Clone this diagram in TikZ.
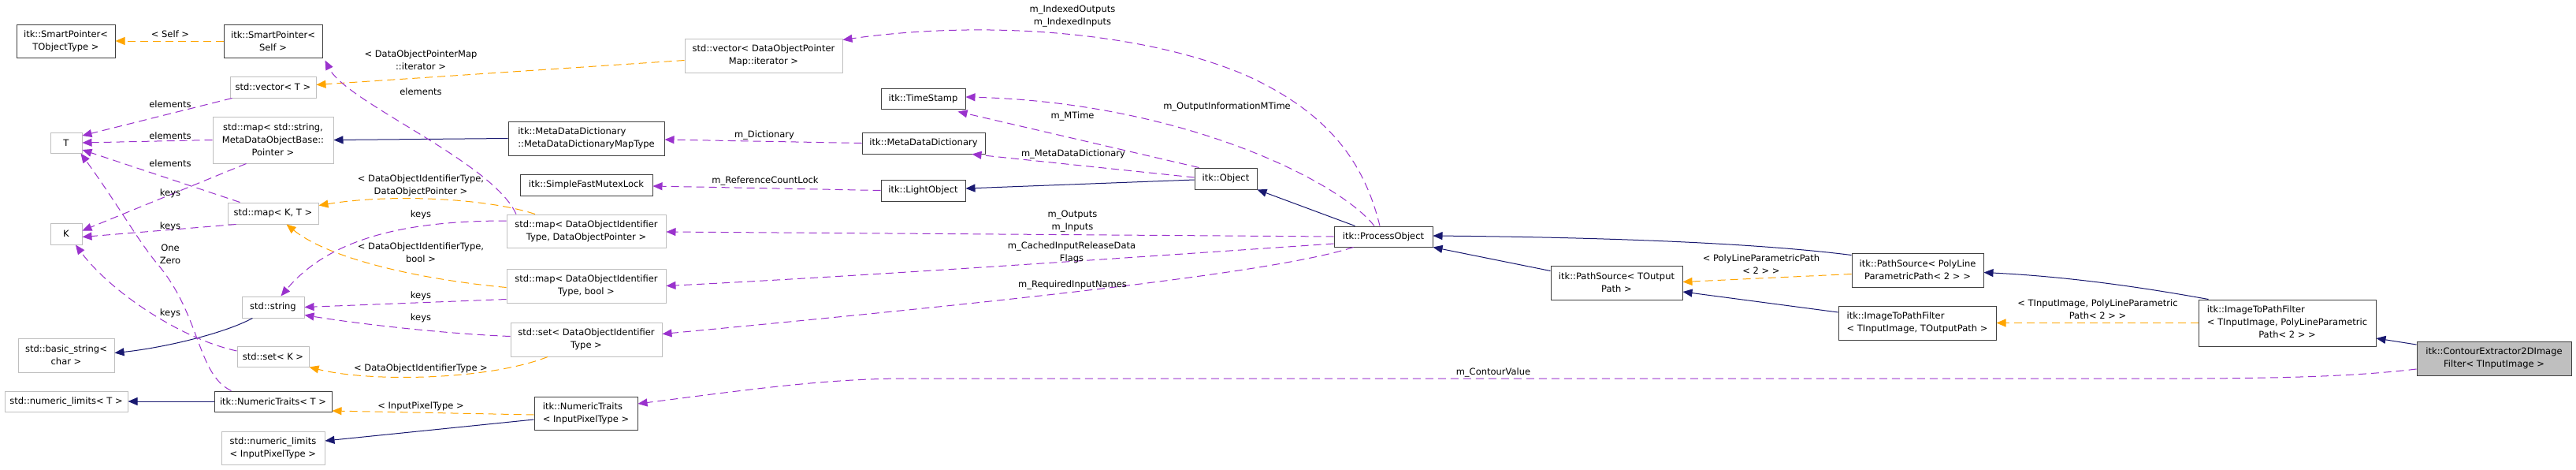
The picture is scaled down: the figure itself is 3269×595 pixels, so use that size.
\documentclass[tikz,border=0pt]{standalone}
\usepackage{fontspec}
\setmainfont{DejaVu Sans}
\usepackage{tikz}
\usetikzlibrary{arrows.meta,positioning,calc}

\definecolor{inhblue}{HTML}{191970}
\definecolor{tmplorange}{HTML}{FFA500}
\definecolor{useorchid}{HTML}{9A32CD}
\definecolor{boxgray}{HTML}{BFBFBF}
\definecolor{boxdark}{HTML}{404040}

\begin{document}
\begin{tikzpicture}[
    x=1pt, y=-1pt,
    every node/.style={font=\fontsize{11.5}{16}\selectfont, inner sep=0pt},
    sz/.style 2 args={minimum width=#1pt, minimum height=#2pt},
    cls/.style={rectangle, draw=boxdark, line width=1pt, fill=white, align=center},
    ext/.style={rectangle, draw=boxgray, line width=1pt, fill=white, align=center},
    focus/.style={rectangle, draw=boxdark, line width=1pt, fill=boxgray, align=center},
    lbl/.style={align=center},
    inh/.style={-{Triangle[length=12pt, width=10pt]}, draw=inhblue, line width=1pt},
    tmpl/.style={-{Triangle[length=12pt, width=10pt]}, draw=tmplorange, line width=1pt, dash pattern=on 10pt off 6pt},
    uses/.style={-{Triangle[length=12pt, width=10pt]}, draw=useorchid, line width=1pt, dash pattern=on 10pt off 6pt}
]

\fill[white] (0,0) rectangle (3269,595);
\useasboundingbox (0,0) rectangle (3269,595);

% Left column
\node[cls, sz={125}{42}] (spT) at (83.5,52) {itk::SmartPointer<\\TObjectType >};
\node[ext, sz={40}{26}] (Tnode) at (84,181) {T};
\node[ext, sz={40}{27}] (Knode) at (84,296.5) {K};
\node[ext, sz={122}{43}] (basicstr) at (84,450.5) {std::basic\_string<\\char >};
\node[ext, sz={156}{26}] (numlimT) at (84,509) {std::numeric\_limits< T >};

% Second column
\node[cls, sz={125}{42}] (spSelf) at (346.5,52) {itk::SmartPointer<\\Self >};
\node[ext, sz={109}{27}] (vecT) at (346.5,110.5) {std::vector< T >};
\node[ext, sz={153}{59}] (mapStr) at (346.5,177.5) {std::map< std::string,\\MetaDataObjectBase::\\Pointer >};
\node[ext, sz={115}{27}] (mapKT) at (346.5,270.5) {std::map< K, T >};
\node[ext, sz={79}{27}] (stdstr) at (346.5,389.5) {std::string};
\node[ext, sz={91}{26}] (setK) at (346.5,452) {std::set< K >};
\node[cls, sz={149}{26}] (ntT) at (346.5,509) {itk::NumericTraits< T >};
\node[ext, sz={131}{42}, align=left] (numlimIPT) at (346.5,568) {std::numeric\_limits\\< InputPixelType >};

% Third column
\node[ext, sz={200}{43}] (vecDOP) at (969,70.5) {std::vector< DataObjectPointer\\Map::iterator >};
\node[cls, sz={198}{43}, align=left] (mddMap) at (744,175.5) {itk::MetaDataDictionary\\::MetaDataDictionaryMapType};
\node[cls, sz={168}{27}] (mutex) at (744,234.5) {itk::SimpleFastMutexLock};
\node[ext, sz={202}{42}] (mapDOP) at (744,293) {std::map< DataObjectIdentifier\\Type, DataObjectPointer >};
\node[ext, sz={202}{43}] (mapBool) at (744,362.5) {std::map< DataObjectIdentifier\\Type, bool >};
\node[ext, sz={192}{43}] (setDOI) at (744,430.5) {std::set< DataObjectIdentifier\\Type >};
\node[cls, sz={131}{42}, align=left] (ntIPT) at (743.5,524) {itk::NumericTraits\\< InputPixelType >};

% Object chain
\node[cls, sz={107}{26}] (stamp) at (1171.5,125) {itk::TimeStamp};
\node[cls, sz={156}{27}] (mdd) at (1172,181.5) {itk::MetaDataDictionary};
\node[cls, sz={107}{27}] (light) at (1171.5,241.5) {itk::LightObject};
\node[cls, sz={79}{27}] (object) at (1555.5,226.5) {itk::Object};
\node[cls, sz={125}{26}] (process) at (1755.5,300) {itk::ProcessObject};

% Filters
\node[cls, sz={167}{43}] (psOut) at (2051.5,358.5) {itk::PathSource< TOutput\\Path >};
\node[cls, sz={167}{43}] (psPoly) at (2433.5,342.5) {itk::PathSource< PolyLine\\ParametricPath< 2 > >};
\node[cls, sz={200}{43}, align=left] (itpT) at (2433,409.5) {itk::ImageToPathFilter\\< TInputImage, TOutputPath >};
\node[cls, sz={225}{59}] (itpPoly) at (2902.5,409.5) {\begin{tabular}{@{}l@{}}itk::ImageToPathFilter\\< TInputImage, PolyLineParametric\\\multicolumn{1}{@{}c@{}}{Path< 2 > >}\end{tabular}};
\node[focus, sz={196}{43}] (contour) at (3165,454.5) {itk::ContourExtractor2DImage\\Filter< TInputImage >};

% Inheritance
\draw[inh] (mddMap.west) -- (mapStr.east);
\draw[inh] ([xshift=-26pt]stdstr.south) .. controls (280,425) and (200,442) .. ([yshift=3pt]basicstr.east);
\draw[inh] (ntT.west) -- (numlimT.east);
\draw[inh] ([yshift=-8pt]ntIPT.west) -- ([yshift=9pt]numlimIPT.east);
\draw[inh] ([yshift=-1.5pt]object.west) -- ([yshift=2.5pt]light.east);
\draw[inh] ([xshift=-36pt]process.north) -- (object.south east);
\draw[inh] ([yshift=15pt]psOut.west) -- (process.south east);
\draw[inh] ([yshift=-3pt]psPoly.north west) .. controls (2290,316) and (2150,302) .. ([yshift=1pt]process.east);
\draw[inh] ([yshift=13.5pt]itpT.west) -- ([yshift=-11.5pt]psOut.east);
\draw[inh] ([xshift=13pt]itpPoly.north west) .. controls (2760,372) and (2650,352) .. ([yshift=-3pt]psPoly.east);
\draw[inh] ([yshift=17.5pt]contour.west) -- ([yshift=-19.5pt]itpPoly.east);

% Template instances
\draw[tmpl] (spSelf.west) -- (spT.east);
\draw[tmpl] ([yshift=-6pt]vecDOP.west) -- ([yshift=3pt]vecT.east);
\draw[tmpl] ([xshift=-65pt]mapDOP.north) .. controls (620,252) and (500,245) .. ([yshift=10pt]mapKT.east);
\draw[tmpl] ([yshift=-2pt]mapBool.west) .. controls (540,355) and (420,330) .. ([xshift=17pt]mapKT.south);
\draw[tmpl] ([xshift=-49pt]setDOI.south) .. controls (620,482) and (470,485) .. (setK.south east);
\draw[tmpl] ([yshift=-2pt]ntIPT.west) -- ([yshift=-12pt]ntT.east);
\draw[tmpl] ([yshift=-5pt]psPoly.west) -- ([yshift=1pt]psOut.east);
\draw[tmpl] (itpPoly.west) -- (itpT.east);

% Members
\draw[uses] ([xshift=3pt]vecT.south west) -- ([yshift=9pt]Tnode.east);
\draw[uses] (mapStr.west) -- (Tnode.east);
\draw[uses] ([xshift=16pt]mapKT.north west) -- ([yshift=-9pt]Tnode.east);
\draw[uses] ([xshift=-34pt]mapStr.south) -- ([yshift=4pt]Knode.east);
\draw[uses] ([xshift=11pt]mapKT.south west) -- ([yshift=-4pt]Knode.east);
\draw[uses] ([yshift=7pt]setK.west) .. controls (230,430) and (140,370) .. ([xshift=12pt]Knode.south);
\draw[uses] ([xshift=-53pt]ntT.north) .. controls (250,475) and (255,400) .. (200,335) .. controls (175,305) and (150,260) .. ([xshift=-2pt]Tnode.south east);
\draw[uses] ([yshift=13pt]mapDOP.west) .. controls (520,280) and (420,300) .. ([xshift=10pt]stdstr.north);
\draw[uses] ([yshift=-17pt]mapBool.west) -- (stdstr.east);
\draw[uses] ([yshift=4pt]setDOI.west) .. controls (560,423) and (450,410) .. ([yshift=-10pt]stdstr.east);
\draw[uses] ([xshift=-89pt]mapDOP.north) .. controls (625,205) and (440,130) .. ([xshift=3pt,yshift=-3pt]spSelf.south east);
\draw[uses] (mdd.west) -- ([yshift=-1.5pt]mddMap.east);
\draw[uses] (light.west) -- ([yshift=-1.5pt]mutex.east);
\draw[uses] ([xshift=6pt]object.north west) -- ([xshift=-10pt,yshift=-3pt]stamp.south east);
\draw[uses] ([yshift=1.5pt]object.west) -- ([xshift=-17pt]mdd.south east);
\draw[uses] ([xshift=-11.5pt]process.north) .. controls (1700,230) and (1500,130) .. ([yshift=2pt]stamp.east);
\draw[uses] ([xshift=-4.5pt]process.north) .. controls (1730,200) and (1680,140) .. (1580,95) .. controls (1450,40) and (1250,25) .. ([yshift=20pt]vecDOP.east);
\draw[uses] (process.west) -- ([yshift=-1pt]mapDOP.east);
\draw[uses] ([yshift=-9pt]process.west) .. controls (1500,322) and (1100,350) .. (mapBool.east);
\draw[uses] ([xshift=-38pt]process.south) .. controls (1620,345) and (1300,380) .. ([yshift=7pt]setDOI.east);
\draw[uses] ([yshift=-13.5pt]contour.west) .. controls (2950,482) and (2800,480) .. (2600,480) -- (1150,480) .. controls (1050,480) and (950,494) .. ([yshift=12pt]ntIPT.east);

% Edge labels
\node[lbl] (lSelf) at (216,43) {< Self >};
\node[lbl] (lIter) at (534,76) {< DataObjectPointerMap\\::iterator >};
\node[lbl] (lElemSp) at (534,116) {elements};
\node[lbl] (lElemVec) at (216,132) {elements};
\node[lbl] (lElemMap) at (216,172) {elements};
\node[lbl] (lElemKT) at (216,207) {elements};
\node[lbl] (lKeysMap) at (216,245) {keys};
\node[lbl] (lKeysKT) at (216,287) {keys};
\node[lbl] (lOneZero) at (216,322) {One\\Zero};
\node[lbl] (lKeysSet) at (216,397) {keys};
\node[lbl] (lDOP) at (534,235) {< DataObjectIdentifierType,\\DataObjectPointer >};
\node[lbl] (lKeysDOP) at (534,272) {keys};
\node[lbl] (lBool) at (534,320) {< DataObjectIdentifierType,\\bool >};
\node[lbl] (lKeysBool) at (534,375) {keys};
\node[lbl] (lKeysDOI) at (534,403) {keys};
\node[lbl] (lDOI) at (534,467) {< DataObjectIdentifierType >};
\node[lbl] (lIPT) at (534,515) {< InputPixelType >};
\node[lbl] (lDict) at (970,171) {m\_Dictionary};
\node[lbl] (lLock) at (971,229) {m\_ReferenceCountLock};
\node[lbl] (lIndexed) at (1361,20) {m\_IndexedOutputs\\m\_IndexedInputs};
\node[lbl] (lOutMTime) at (1557,135) {m\_OutputInformationMTime};
\node[lbl] (lMTime) at (1361,147) {m\_MTime};
\node[lbl] (lMDD) at (1362,195) {m\_MetaDataDictionary};
\node[lbl] (lIO) at (1361,281) {m\_Outputs\\m\_Inputs};
\node[lbl] (lCached) at (1360,320) {m\_CachedInputReleaseData\\Flags};
\node[lbl] (lReq) at (1361,361) {m\_RequiredInputNames};
\node[lbl] (lContour) at (1895,472) {m\_ContourValue};
\node[lbl] (lPoly) at (2235,335) {< PolyLineParametricPath\\< 2 > >};
\node[lbl] (lItp) at (2662,392) {< TInputImage, PolyLineParametric\\Path< 2 > >};

\end{tikzpicture}
\end{document}
